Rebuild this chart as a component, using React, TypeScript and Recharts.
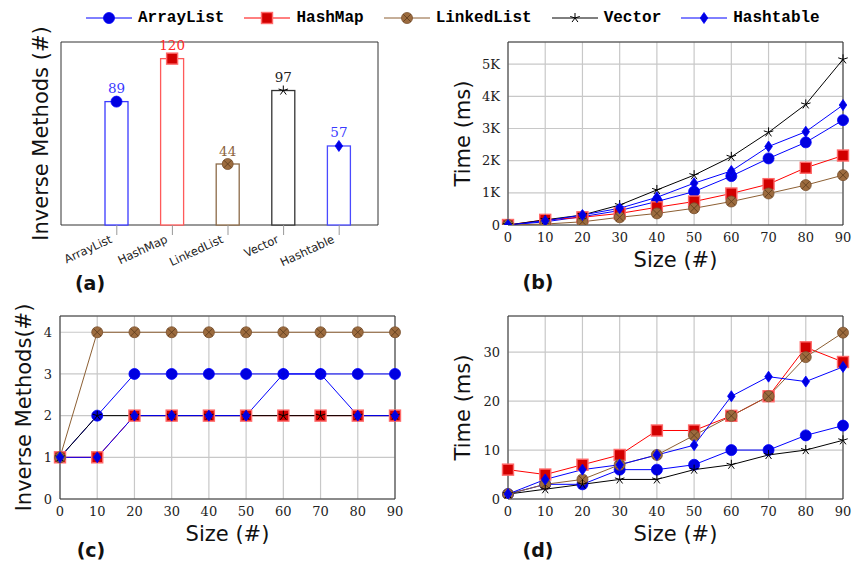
import React from 'react';
import { BarChart, Bar, LineChart, Line, XAxis, YAxis, CartesianGrid, LabelList } from 'recharts';

// categories and values
const COLLECTIONS = ['ArrayList', 'HashMap', 'LinkedList', 'Vector', 'Hashtable'];
const INVERSE_TOTALS = [89, 120, 44, 97, 57];
const SIZES = [0, 10, 20, 30, 40, 50, 60, 70, 80, 90];

// (b) time in ms
const TIME_B_ARRAYLIST = [0, 100, 260, 450, 730, 1040, 1520, 2070, 2570, 3260];
const TIME_B_HASHMAP = [0, 160, 240, 360, 550, 730, 980, 1270, 1780, 2160];
const TIME_B_LINKEDLIST = [0, 30, 100, 240, 360, 520, 730, 980, 1240, 1550];
const TIME_B_VECTOR = [0, 160, 310, 620, 1090, 1550, 2120, 2880, 3750, 5150];
const TIME_B_HASHTABLE = [0, 130, 310, 520, 860, 1300, 1680, 2440, 2900, 3730];

// (c) inverse methods
const INV_C_ARRAYLIST = [1, 2, 3, 3, 3, 3, 3, 3, 3, 3];
const INV_C_HASHMAP = [1, 1, 2, 2, 2, 2, 2, 2, 2, 2];
const INV_C_LINKEDLIST = [1, 4, 4, 4, 4, 4, 4, 4, 4, 4];
const INV_C_VECTOR = [1, 2, 2, 2, 2, 2, 2, 2, 2, 2];
const INV_C_HASHTABLE = [1, 1, 2, 2, 2, 2, 3, 3, 2, 2];

// (d) time in ms
const TIME_D_ARRAYLIST = [1, 3, 3, 6, 6, 7, 10, 10, 13, 15];
const TIME_D_HASHMAP = [6, 5, 7, 9, 14, 14, 17, 21, 31, 28];
const TIME_D_LINKEDLIST = [1, 3, 4, 7, 9, 13, 17, 21, 29, 34];
const TIME_D_VECTOR = [1, 2, 3, 4, 4, 6, 7, 9, 10, 12];
const TIME_D_HASHTABLE = [1, 4, 6, 7, 9, 11, 21, 25, 24, 27];

const TICKS_B = [0, 1000, 2000, 3000, 4000, 5000];
const TICKS_C = [0, 1, 2, 3, 4];
const TICKS_D = [0, 10, 20, 30];

const SERIES = [
  { name: 'ArrayList', line: '#0000ff', bar: '#3a3aff', label: '#3a3aff', mark: 'circle' },
  { name: 'HashMap', line: '#ff0000', bar: '#ff5a5a', label: '#ff2a2a', mark: 'square' },
  { name: 'LinkedList', line: '#8c5f33', bar: '#8c6a48', label: '#8c6440', mark: 'ocross' },
  { name: 'Vector', line: '#000000', bar: '#333333', label: '#222222', mark: 'star' },
  { name: 'Hashtable', line: '#0000ff', bar: '#4a4aff', label: '#3a3aff', mark: 'diamond' },
];

const toRows = (cols: number[][]) =>
  SIZES.map((size, i) => {
    const row: Record<string, number> = { size };
    SERIES.forEach((s, k) => (row[s.name] = cols[k][i]));
    return row;
  });

const dataA = COLLECTIONS.map((name, i) => ({ name, value: INVERSE_TOTALS[i] }));
const dataB = toRows([TIME_B_ARRAYLIST, TIME_B_HASHMAP, TIME_B_LINKEDLIST, TIME_B_VECTOR, TIME_B_HASHTABLE]);
const dataC = toRows([INV_C_ARRAYLIST, INV_C_HASHMAP, INV_C_LINKEDLIST, INV_C_VECTOR, INV_C_HASHTABLE]);
const dataD = toRows([TIME_D_ARRAYLIST, TIME_D_HASHMAP, TIME_D_LINKEDLIST, TIME_D_VECTOR, TIME_D_HASHTABLE]);

const SERIF = '"DejaVu Serif", "Liberation Serif", serif';
const SANS = '"DejaVu Sans", sans-serif';

function Mark({ kind, x, y }: { kind: string; x: number; y: number }) {
  if (kind === 'circle') return <circle cx={x} cy={y} r={5.5} fill="#0000e0" stroke="#0000ff" strokeWidth={0.8} />;
  if (kind === 'square')
    return <rect x={x - 5.5} y={y - 5.5} width={11} height={11} fill="#d20000" stroke="#ff6a6a" strokeWidth={1.4} />;
  if (kind === 'ocross') {
    const d = 3.8;
    return (
      <g>
        <circle cx={x} cy={y} r={5.5} fill="#9c6b3e" stroke="#7a5230" strokeWidth={0.8} />
        <path d={`M${x - d},${y - d}L${x + d},${y + d}M${x - d},${y + d}L${x + d},${y - d}`} stroke="#5a3a1c" strokeWidth={0.8} />
      </g>
    );
  }
  if (kind === 'star') {
    let d = '';
    for (let k = 0; k < 5; k++) {
      const a = ((90 + 72 * k) * Math.PI) / 180;
      d += `M${x},${y}L${x + 5 * Math.cos(a)},${y - 5 * Math.sin(a)}`;
    }
    return <path d={d} stroke="#000" strokeWidth={1} fill="none" />;
  }
  return (
    <polygon
      points={`${x},${y - 5.5} ${x + 3.8},${y} ${x},${y + 5.5} ${x - 3.8},${y}`}
      fill="#0000e0"
      stroke="#0000ff"
      strokeWidth={0.8}
    />
  );
}

const frameH = ({ offset }: any) => [offset.top, offset.top + offset.height];
const frameV = ({ offset }: any) => [offset.left, offset.left + offset.width];

const tickStyle = { fontFamily: SERIF, fontSize: 13, fill: '#222' };
const titleStyle = { fontFamily: SANS, fontSize: 21, fill: '#111' };

function RotTick({ x, y, payload }: any) {
  return (
    <g transform={`translate(${x - 4},${y + 5}) rotate(-25)`}>
      <text x={0} y={0} textAnchor="end" fontFamily={SANS} fontSize={11.5} fill="#222">
        {payload.value}
      </text>
    </g>
  );
}

function BarShape(props: any) {
  const { x, y, width, height, index } = props;
  const s = SERIES[index];
  return (
    <g>
      <rect x={x} y={y} width={width} height={height} fill="#fff" stroke={s.bar} strokeWidth={1.3} />
      <Mark kind={s.mark} x={x + width / 2} y={y} />
    </g>
  );
}

function BarValue(props: any) {
  const { x, y, width, value, index } = props;
  return (
    <text x={x + width / 2} y={y - 8.5} textAnchor="middle" fontFamily={SERIF} fontSize={13.5} fill={SERIES[index].label}>
      {value}
    </text>
  );
}

function Legend() {
  return (
    <div style={{ position: 'absolute', left: 86, top: 8, height: 20, display: 'flex', alignItems: 'center' }}>
      {SERIES.map((s) => (
        <div key={s.name} style={{ display: 'flex', alignItems: 'center', marginRight: 20 }}>
          <svg width={46} height={20} style={{ marginRight: 6 }}>
            <line x1={0} x2={46} y1={10} y2={10} stroke={s.line} strokeWidth={1} />
            <Mark kind={s.mark} x={23} y={10} />
          </svg>
          <span style={{ fontFamily: '"Liberation Mono", monospace', fontWeight: 'bold', fontSize: 16, color: '#000' }}>
            {s.name}
          </span>
        </div>
      ))}
    </div>
  );
}

function Caption({ text, cx, cy }: { text: string; cx: number; cy: number }) {
  return (
    <div
      style={{
        position: 'absolute',
        left: cx - 25,
        top: cy - 11,
        width: 50,
        lineHeight: '22px',
        textAlign: 'center',
        fontFamily: SANS,
        fontWeight: 'bold',
        fontSize: 19,
        color: '#111',
      }}
    >
      {text}
    </div>
  );
}

function SeriesLines() {
  return SERIES.map((s) => (
    <Line
      key={s.name}
      dataKey={s.name}
      stroke={s.line}
      strokeWidth={1}
      isAnimationActive={false}
      activeDot={false}
      dot={(p: any) => <Mark key={`${s.name}-${p.index}`} kind={s.mark} x={p.cx} y={p.cy} />}
    />
  ));
}

function TimeOrCountChart({ data, ticks, max, yTitle, yWidth, fmt, margin, width, height }: any) {
  return (
    <LineChart width={width} height={height} data={data} margin={margin}>
      <CartesianGrid stroke="#c8c8c8" strokeWidth={1.2} />
      <CartesianGrid stroke="#333" strokeWidth={1} fill="none" horizontalCoordinatesGenerator={frameH} verticalCoordinatesGenerator={frameV} />
      <XAxis
        dataKey="size"
        type="number"
        domain={[0, 90]}
        ticks={SIZES}
        interval={0}
        axisLine={false}
        tickLine={false}
        tick={tickStyle}
        height={69}
        label={{ value: 'Size (#)', position: 'center', style: titleStyle }}
      />
      <YAxis
        type="number"
        domain={[0, max]}
        ticks={ticks}
        allowDataOverflow
        axisLine={false}
        tickLine={false}
        tick={tickStyle}
        tickFormatter={fmt}
        width={yWidth}
        label={{ value: yTitle, angle: -90, position: 'center', style: titleStyle }}
      />
      {SeriesLines()}
    </LineChart>
  );
}

const fmtK = (v: number) => (v === 0 ? '0' : `${v / 1000}K`);

export default function App() {
  return (
    <div style={{ position: 'absolute', left: 0, top: 0, width: 853, height: 568, background: '#fff', overflow: 'hidden' }}>
      <Legend />

      <div style={{ position: 'absolute', left: 0, top: 0 }}>
        <BarChart width={430} height={300} data={dataA} margin={{ top: 42, right: 52, bottom: 25, left: 21 }}>
          <CartesianGrid stroke="#333" strokeWidth={1} fill="none" horizontalCoordinatesGenerator={frameH} verticalCoordinatesGenerator={frameV} />
          <XAxis
            dataKey="name"
            interval={0}
            axisLine={false}
            tickLine={{ stroke: '#999' }}
            tickSize={10}
            tick={<RotTick />}
            padding={{ left: 28, right: 11 }}
            height={50}
          />
          <YAxis
            type="number"
            domain={[0, 132]}
            tick={false}
            tickLine={false}
            axisLine={false}
            width={40}
            label={{ value: 'Inverse Methods (#)', angle: -90, position: 'center', style: titleStyle }}
          />
          <Bar dataKey="value" barSize={23} isAnimationActive={false} shape={<BarShape />}>
            <LabelList dataKey="value" content={<BarValue />} />
          </Bar>
        </BarChart>
      </div>

      <div style={{ position: 'absolute', left: 418, top: 0 }}>
        <TimeOrCountChart
          data={dataB}
          ticks={TICKS_B}
          max={5690}
          fmt={fmtK}
          yTitle="Time (ms)"
          yWidth={90}
          width={435}
          height={300}
          margin={{ top: 42, right: 10, bottom: 6, left: 0 }}
        />
      </div>

      <div style={{ position: 'absolute', left: -12, top: 300 }}>
        <TimeOrCountChart
          data={dataC}
          ticks={TICKS_C}
          max={4.39}
          yTitle="Inverse Methods(#)"
          yWidth={72}
          width={442}
          height={268}
          margin={{ top: 16, right: 35, bottom: 0, left: 0 }}
        />
      </div>

      <div style={{ position: 'absolute', left: 418, top: 300 }}>
        <TimeOrCountChart
          data={dataD}
          ticks={TICKS_D}
          max={37.4}
          yTitle="Time (ms)"
          yWidth={90}
          width={435}
          height={268}
          margin={{ top: 16, right: 10, bottom: 0, left: 0 }}
        />
      </div>

      <Caption text="(a)" cx={90} cy={283} />
      <Caption text="(b)" cx={538} cy={282} />
      <Caption text="(c)" cx={91} cy={550} />
      <Caption text="(d)" cx={538} cy={550} />
    </div>
  );
}
